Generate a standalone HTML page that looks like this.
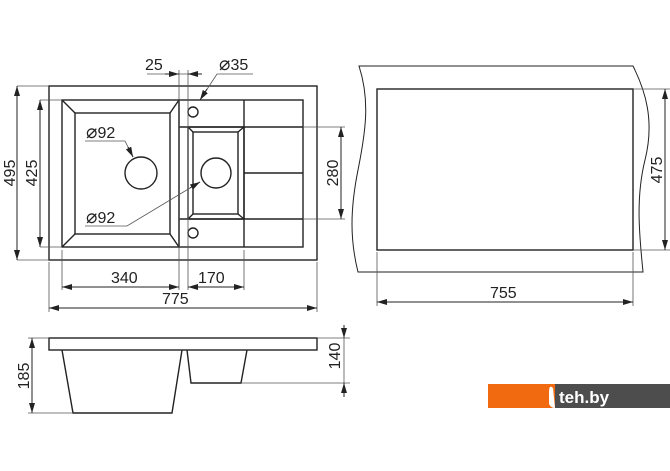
<!DOCTYPE html>
<html><head><meta charset="utf-8"><style>
html,body{margin:0;padding:0;background:#fff;width:670px;height:471px;overflow:hidden}
text{font-family:"Liberation Sans",sans-serif;font-size:16px;fill:#222}
</style></head><body>
<svg width="670" height="471" viewBox="0 0 670 471" xmlns="http://www.w3.org/2000/svg">
<defs>
<marker id="a" viewBox="0 0 10 6" refX="10" refY="3" markerWidth="10" markerHeight="6" orient="auto-start-reverse" markerUnits="userSpaceOnUse"><path d="M0,0L10,3L0,6z" fill="#222"/></marker>
</defs>
<g fill="none" stroke="#222" stroke-width="1.4">
<rect x="49" y="86" width="268" height="174"/>
<rect x="62" y="100" width="117" height="147"/>
<rect x="75" y="113" width="95" height="121"/>
<path d="M62,100L75,113M179,100L170,113M62,247L75,234M179,247L170,234"/>
<rect x="179" y="100" width="124" height="147"/>
<path d="M244,100V247M179,127H303M244,173H303M179,219H303"/>
<rect x="188" y="127" width="56" height="92"/>
<rect x="193" y="132" width="45" height="82"/>
<path d="M188,127L193,132M244,127L238,132M188,219L193,214M244,219L238,214"/>
<circle cx="141" cy="173" r="16"/>
<circle cx="216" cy="173" r="15"/>
<circle cx="193" cy="112" r="5"/>
<circle cx="193" cy="233" r="5"/>
<path d="M359,66H633C645,90 655,120 645,160C635,200 640,240 643,272H358C350,240 350,210 358,170C366,130 370,100 359,66Z" stroke-width="1"/>
<rect x="377" y="89" width="256" height="161"/>
<rect x="49" y="338" width="268" height="12"/>
<path d="M62,350L73,413H172L182,350M187,350L191,383H241L247,350"/>
</g>
<g fill="none" stroke="#555" stroke-width="0.8">
<path d="M17,86H49M17,260H49M40,100H62M40,247H62"/>
<path d="M179,70V290M188,70V290M62,250V290M244,250V290M49,262V312M317,262V312"/>
<path d="M303,127H345M303,219H345"/>
<path d="M633,89H670M633,250H670M377,252V306M633,252V306"/>
<path d="M147,74H200"/>
<path d="M253,74H217L200,100"/>
<path d="M85,141H125L133,157"/>
<path d="M85,226H127L200,182"/>
<path d="M28,338H49M28,413H73M317,338H350M241,383H350M344,325V397"/>
</g>
<g stroke="#222" stroke-width="1" fill="none" marker-end="url(#a)" marker-start="url(#a)">
<path d="M17,86V260"/><path d="M40,100V247"/>
<path d="M341,127V219"/>
<path d="M62,287H179"/><path d="M188,287H244"/>
<path d="M49,308H317"/>
<path d="M665,89V250"/>
<path d="M377,302H633"/>
<path d="M32,338V413"/>
</g>
<g stroke="#222" stroke-width="1" marker-end="url(#a)">
<path d="M165,74H179"/><path d="M202,74H188"/>
<path d="M344,325V338"/><path d="M344,397V383"/>
<path d="M207,89L200,100"/><path d="M128,147L133,157"/><path d="M190,188L200,182"/>
</g>
<text x="145" y="70">25</text>
<text x="219" y="70"><tspan style="font-size:19px">⌀</tspan>35</text>
<text x="86" y="138"><tspan style="font-size:19px">⌀</tspan>92</text>
<text x="86" y="223"><tspan style="font-size:19px">⌀</tspan>92</text>
<text x="111" y="283">340</text>
<text x="198" y="283">170</text>
<text x="162" y="304">775</text>
<text x="490" y="298">755</text>
<text transform="translate(15,173) rotate(-90)" text-anchor="middle">495</text>
<text transform="translate(37,173) rotate(-90)" text-anchor="middle">425</text>
<text transform="translate(338,173) rotate(-90)" text-anchor="middle">280</text>
<text transform="translate(662,170) rotate(-90)" text-anchor="middle">475</text>
<text transform="translate(29,376) rotate(-90)" text-anchor="middle">185</text>
<text transform="translate(340,356) rotate(-90)" text-anchor="middle">140</text>
<rect x="488" y="384" width="67" height="24" fill="#f26a10"/>
<rect x="555" y="384" width="115" height="24" fill="#4d4d4d"/>
<path d="M553,388Q549,384 549,392V404Q551,408 555,408Z" fill="#fff"/>
<text x="559" y="403" style="fill:#fff;font-size:17px;font-weight:bold">teh.by</text>
</svg>
</body></html>
